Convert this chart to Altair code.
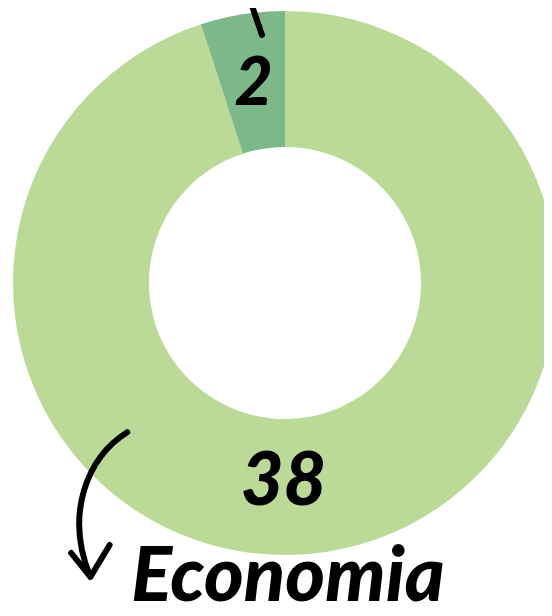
import altair as alt
import pandas as pd

categories = ["Economia", "Outro"]
values = [38, 2]
colors = ["#BCDA97", "#7DB88A"]

df = pd.DataFrame({"categoria": categories, "valor": values, "ordem": [0, 1]})

CX, CY = 277, 275
FONT = "Lato"

theta = alt.Theta("valor:Q", stack=True)
order = alt.Order("ordem:O")

arcs = alt.Chart(df).mark_arc(outerRadius=272, innerRadius=136, clip=True).encode(
    theta=theta,
    order=order,
    x=alt.value(CX),
    y=alt.value(CY),
    color=alt.Color("categoria:N", scale=alt.Scale(domain=categories, range=colors), legend=None),
)

lab38 = alt.Chart(df).transform_filter(alt.datum.categoria == "Economia").mark_text(
    radius=202, dx=-33, font=FONT, fontWeight=900, fontStyle="italic", fontSize=74, color="black"
).encode(theta=theta, order=order, x=alt.value(CX), y=alt.value(CY), text="valor:Q")

lab2 = alt.Chart(df).mark_text(
    radius=200, font=FONT, fontWeight=900, fontStyle="italic", fontSize=66, color="black"
).encode(theta=theta, order=order, x=alt.value(CX), y=alt.value(CY),
         text=alt.condition(alt.datum.categoria == "Outro", "valor:Q", alt.value("")))

title = alt.Chart(df).transform_filter(alt.datum.categoria == "Economia").mark_text(
    font=FONT, fontWeight=900, fontStyle="italic", fontSize=76,
    color="black", baseline="alphabetic"
).encode(x=alt.value(280), y=alt.value(593), text="categoria:N")

arrow = alt.Chart(df).transform_filter(alt.datum.categoria == "Economia").mark_point(
    shape="M 0.34 -0.91 C -0.15 -0.6 -0.45 0.1 -0.12 0.9 M -0.36 0.6 L -0.12 0.9 L 0.12 0.5",
    filled=False, stroke="black", strokeWidth=6, strokeCap="round", strokeJoin="round", opacity=1, size=25600,
).encode(x=alt.value(92), y=alt.value(497))

tick = alt.Chart(df).transform_filter(alt.datum.categoria == "Economia").mark_rule(
    color="black", strokeWidth=6, strokeCap="round"
).encode(x=alt.value(242), y=alt.value(-8), x2=alt.value(254), y2=alt.value(27))

chart = alt.layer(arcs, lab38, lab2, title, arrow, tick).properties(
    width=536, height=595, padding=0, autosize=alt.AutoSizeParams(type="none")
).configure_view(stroke=None)

chart.save("out.html", embed_options={"renderer": "svg", "actions": False})
